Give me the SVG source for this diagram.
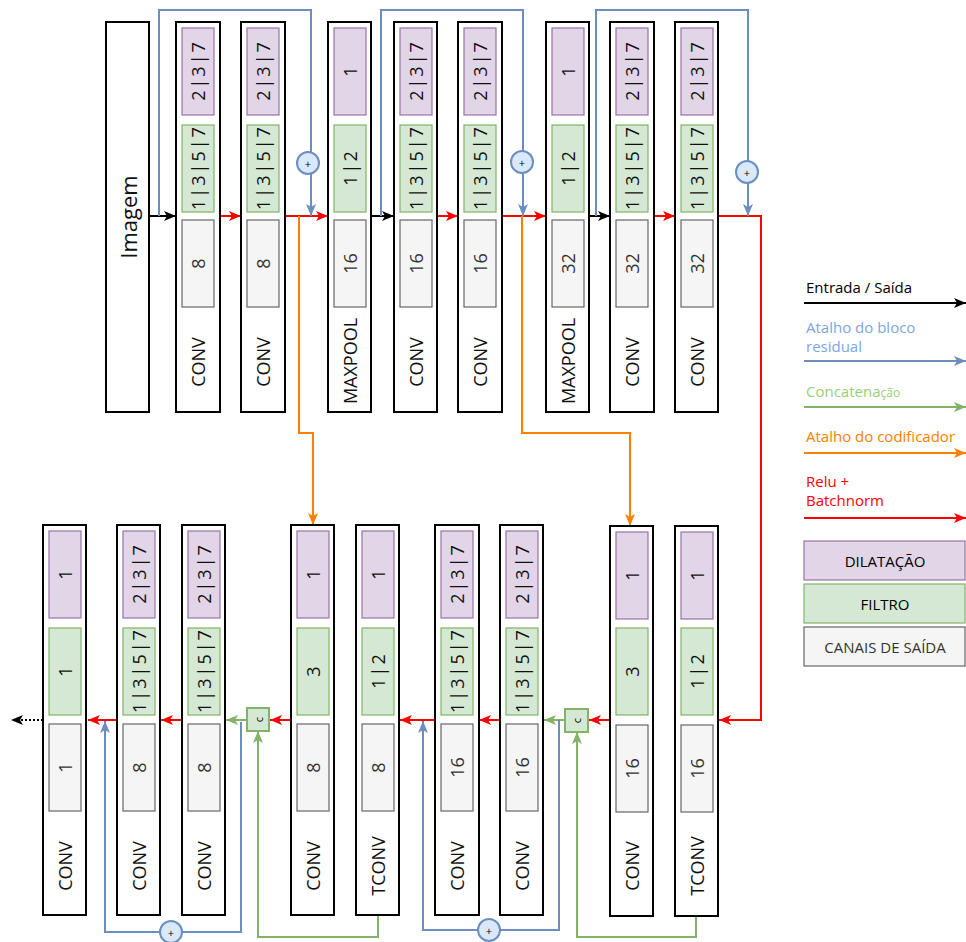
<svg xmlns="http://www.w3.org/2000/svg" width="966" height="942" viewBox="0 0 966 942">
<style>
.box{fill:#fff;stroke:#000;stroke-width:2}
.dil{fill:#e1d5e7;stroke:#9673a6;stroke-width:1.2}
.fil{fill:#d5e8d4;stroke:#82b366;stroke-width:1.2}
.out{fill:#f5f5f5;stroke:#666;stroke-width:1.2}
.t{font-family:"Open Sans","Noto Sans","DejaVu Sans",sans-serif;font-size:18px;text-anchor:middle;dominant-baseline:central;fill:#111}
.n{letter-spacing:2px}
.g{fill:#333}
.ln{fill:none;stroke-width:2}
.k{stroke:#000}.r{stroke:#ff0000}.b{stroke:#6c8ebf}.gr{stroke:#82b366}.o{stroke:#ff8000}
.plus{fill:#dae8fc;stroke:#6c8ebf;stroke-width:2}
.cb{fill:#d5e8d4;stroke:#82b366;stroke-width:2}
.sm{font-family:"Open Sans","Noto Sans",sans-serif;font-size:11px;text-anchor:middle;dominant-baseline:central;fill:#000}
.lg{font-family:"Open Sans","Noto Sans","DejaVu Sans",sans-serif;font-size:15px}
.lgc{font-family:"Open Sans","Noto Sans","DejaVu Sans",sans-serif;font-size:15px;text-anchor:middle;dominant-baseline:central}
</style>
<defs>
<marker id="ak" viewBox="0 0 12 10" markerUnits="userSpaceOnUse" markerWidth="12" markerHeight="10" refX="12" refY="5" orient="auto"><path d="M0,0 L12,5 L0,10 L3,5 z" fill="#000"/></marker>
<marker id="ar" viewBox="0 0 12 10" markerUnits="userSpaceOnUse" markerWidth="12" markerHeight="10" refX="12" refY="5" orient="auto"><path d="M0,0 L12,5 L0,10 L3,5 z" fill="#ff0000"/></marker>
<marker id="ab" viewBox="0 0 12 10" markerUnits="userSpaceOnUse" markerWidth="12" markerHeight="10" refX="12" refY="5" orient="auto"><path d="M0,0 L12,5 L0,10 L3,5 z" fill="#6c8ebf"/></marker>
<marker id="ag" viewBox="0 0 12 10" markerUnits="userSpaceOnUse" markerWidth="12" markerHeight="10" refX="12" refY="5" orient="auto"><path d="M0,0 L12,5 L0,10 L3,5 z" fill="#82b366"/></marker>
<marker id="ao" viewBox="0 0 12 10" markerUnits="userSpaceOnUse" markerWidth="12" markerHeight="10" refX="12" refY="5" orient="auto"><path d="M0,0 L12,5 L0,10 L3,5 z" fill="#ff8000"/></marker>
</defs>

<g id="connectors">
<path class="ln k" d="M149,216 H176" marker-end="url(#ak)"/>
<path class="ln r" d="M220,216 H241" marker-end="url(#ar)"/>
<path class="ln r" d="M285,216 H328" marker-end="url(#ar)"/>
<path class="ln k" d="M371,216 H394" marker-end="url(#ak)"/>
<path class="ln r" d="M437,216 H458" marker-end="url(#ar)"/>
<path class="ln r" d="M502,216 H546" marker-end="url(#ar)"/>
<path class="ln k" d="M589,216 H610" marker-end="url(#ak)"/>
<path class="ln r" d="M654,216 H675" marker-end="url(#ar)"/>
<path class="ln r" d="M718,216 H761 V720 H719" marker-end="url(#ar)"/>
<path class="ln b" d="M159,216 V10 H311 V216" marker-end="url(#ab)"/>
<path class="ln b" d="M381,216 V10 H523 V216" marker-end="url(#ab)"/>
<path class="ln b" d="M596,216 V10 H748 V216" marker-end="url(#ab)"/>
<path class="ln o" d="M299,216 V433 H313 V525" marker-end="url(#ao)"/>
<path class="ln o" d="M522,216 V433 H630 V526" marker-end="url(#ao)"/>
<path class="ln r" d="M610,720 H589" marker-end="url(#ar)"/>
<path class="ln gr" d="M696,916 V937 H577 V732" marker-end="url(#ag)"/>
<path class="ln gr" d="M565,720 H544" marker-end="url(#ag)"/>
<path class="ln b" d="M559,720 V930 H423 V721" marker-end="url(#ab)"/>
<path class="ln r" d="M500,720 H479" marker-end="url(#ar)"/>
<path class="ln r" d="M435,720 H400" marker-end="url(#ar)"/>
<path class="ln gr" d="M378,916 V937 H258 V731" marker-end="url(#ag)"/>
<path class="ln r" d="M291,720 H270" marker-end="url(#ar)"/>
<path class="ln gr" d="M247,720 H226" marker-end="url(#ag)"/>
<path class="ln b" d="M241,722 V932 H105 V721" marker-end="url(#ab)"/>
<path class="ln r" d="M182,720 H161" marker-end="url(#ar)"/>
<path class="ln r" d="M117,720 H88" marker-end="url(#ar)"/>
<path class="ln k" d="M43,720 H11" stroke-dasharray="2,2" marker-end="url(#ak)"/>
<g id="sum1"><circle class="plus" cx="308" cy="163" r="11"/><text class="sm" x="308" y="163">+</text></g>
<g id="sum2"><circle class="plus" cx="522" cy="162" r="11"/><text class="sm" x="522" y="162">+</text></g>
<g id="sum3"><circle class="plus" cx="747" cy="172" r="11"/><text class="sm" x="747" y="172">+</text></g>
<g id="sum4"><circle class="plus" cx="489" cy="930" r="11"/><text class="sm" x="489" y="930">+</text></g>
<g id="sum5"><circle class="plus" cx="171" cy="932" r="11"/><text class="sm" x="171" y="932">+</text></g>
</g>

<g id="cat1"><rect class="cb" x="565" y="709" width="23" height="23"/><text class="sm" transform="rotate(-90 576.5 720.5)" x="576.5" y="720.5">c</text></g>
<g id="cat2"><rect class="cb" x="247" y="708" width="22" height="23"/><text class="sm" transform="rotate(-90 258 719.5)" x="258" y="719.5">c</text></g>

<g id="imagem"><rect class="box" x="106" y="22" width="43" height="390"/><text class="t" style="font-size:22px" transform="rotate(-90 127.5 217)" x="127.5" y="217">Imagem</text></g>

<g id="t1"><rect class="box" x="176" y="22" width="44" height="390"/>
<rect class="dil" x="182" y="28" width="32" height="87"/><text class="t n" transform="rotate(-90 198 71.5)" x="199" y="71.5">2|3|7</text>
<rect class="fil" x="182" y="125" width="32" height="87"/><text class="t n" transform="rotate(-90 198 168.5)" x="199" y="168.5">1|3|5|7</text>
<rect class="out" x="182" y="220" width="32" height="87"/><text class="t g" transform="rotate(-90 198 263.5)" x="198" y="263.5">8</text>
<text class="t" transform="rotate(-90 198 362)" x="198" y="362">CONV</text></g>

<g id="t2"><rect class="box" x="241" y="22" width="44" height="390"/>
<rect class="dil" x="247" y="28" width="32" height="87"/><text class="t n" transform="rotate(-90 263 71.5)" x="264" y="71.5">2|3|7</text>
<rect class="fil" x="247" y="125" width="32" height="87"/><text class="t n" transform="rotate(-90 263 168.5)" x="264" y="168.5">1|3|5|7</text>
<rect class="out" x="247" y="220" width="32" height="87"/><text class="t g" transform="rotate(-90 263 263.5)" x="263" y="263.5">8</text>
<text class="t" transform="rotate(-90 263 362)" x="263" y="362">CONV</text></g>

<g id="t3"><rect class="box" x="328" y="22" width="43" height="390"/>
<rect class="dil" x="334" y="28" width="32" height="87"/><text class="t" transform="rotate(-90 350 71.5)" x="350" y="71.5">1</text>
<rect class="fil" x="334" y="125" width="32" height="87"/><text class="t n" transform="rotate(-90 350 168.5)" x="351" y="168.5">1|2</text>
<rect class="out" x="334" y="220" width="32" height="87"/><text class="t g" transform="rotate(-90 350 263.5)" x="350" y="263.5">16</text>
<text class="t" transform="rotate(-90 350 361)" x="350" y="361">MAXPOOL</text></g>

<g id="t4"><rect class="box" x="394" y="22" width="43" height="390"/>
<rect class="dil" x="400" y="28" width="32" height="87"/><text class="t n" transform="rotate(-90 416 71.5)" x="417" y="71.5">2|3|7</text>
<rect class="fil" x="400" y="125" width="32" height="87"/><text class="t n" transform="rotate(-90 416 168.5)" x="417" y="168.5">1|3|5|7</text>
<rect class="out" x="400" y="220" width="32" height="87"/><text class="t g" transform="rotate(-90 416 263.5)" x="416" y="263.5">16</text>
<text class="t" transform="rotate(-90 416 362)" x="416" y="362">CONV</text></g>

<g id="t5"><rect class="box" x="458" y="22" width="44" height="390"/>
<rect class="dil" x="464" y="28" width="32" height="87"/><text class="t n" transform="rotate(-90 480 71.5)" x="481" y="71.5">2|3|7</text>
<rect class="fil" x="464" y="125" width="32" height="87"/><text class="t n" transform="rotate(-90 480 168.5)" x="481" y="168.5">1|3|5|7</text>
<rect class="out" x="464" y="220" width="32" height="87"/><text class="t g" transform="rotate(-90 480 263.5)" x="480" y="263.5">16</text>
<text class="t" transform="rotate(-90 480 362)" x="480" y="362">CONV</text></g>

<g id="t6"><rect class="box" x="546" y="22" width="43" height="390"/>
<rect class="dil" x="552" y="28" width="32" height="87"/><text class="t" transform="rotate(-90 568 71.5)" x="568" y="71.5">1</text>
<rect class="fil" x="552" y="125" width="32" height="87"/><text class="t n" transform="rotate(-90 568 168.5)" x="569" y="168.5">1|2</text>
<rect class="out" x="552" y="220" width="32" height="87"/><text class="t g" transform="rotate(-90 568 263.5)" x="568" y="263.5">32</text>
<text class="t" transform="rotate(-90 568 361)" x="568" y="361">MAXPOOL</text></g>

<g id="t7"><rect class="box" x="610" y="22" width="44" height="390"/>
<rect class="dil" x="616" y="28" width="32" height="87"/><text class="t n" transform="rotate(-90 632 71.5)" x="633" y="71.5">2|3|7</text>
<rect class="fil" x="616" y="125" width="32" height="87"/><text class="t n" transform="rotate(-90 632 168.5)" x="633" y="168.5">1|3|5|7</text>
<rect class="out" x="616" y="220" width="32" height="87"/><text class="t g" transform="rotate(-90 632 263.5)" x="632" y="263.5">32</text>
<text class="t" transform="rotate(-90 632 362)" x="632" y="362">CONV</text></g>

<g id="t8"><rect class="box" x="675" y="22" width="43" height="390"/>
<rect class="dil" x="681" y="28" width="32" height="87"/><text class="t n" transform="rotate(-90 697 71.5)" x="698" y="71.5">2|3|7</text>
<rect class="fil" x="681" y="125" width="32" height="87"/><text class="t n" transform="rotate(-90 697 168.5)" x="698" y="168.5">1|3|5|7</text>
<rect class="out" x="681" y="220" width="32" height="87"/><text class="t g" transform="rotate(-90 697 263.5)" x="697" y="263.5">32</text>
<text class="t" transform="rotate(-90 697 362)" x="697" y="362">CONV</text></g>

<g id="b1"><rect class="box" x="43" y="525" width="43" height="390"/>
<rect class="dil" x="49" y="531" width="32" height="87"/><text class="t" transform="rotate(-90 65 574.5)" x="65" y="574.5">1</text>
<rect class="fil" x="49" y="628" width="32" height="87"/><text class="t" transform="rotate(-90 65 671.5)" x="65" y="671.5">1</text>
<rect class="out" x="49" y="724" width="32" height="87"/><text class="t g" transform="rotate(-90 65 767.5)" x="65" y="767.5">1</text>
<text class="t" transform="rotate(-90 65 866)" x="65" y="866">CONV</text></g>

<g id="b2"><rect class="box" x="117" y="525" width="43" height="390"/>
<rect class="dil" x="123" y="531" width="32" height="87"/><text class="t n" transform="rotate(-90 139 574.5)" x="140" y="574.5">2|3|7</text>
<rect class="fil" x="123" y="628" width="32" height="87"/><text class="t n" transform="rotate(-90 139 671.5)" x="140" y="671.5">1|3|5|7</text>
<rect class="out" x="123" y="724" width="32" height="87"/><text class="t g" transform="rotate(-90 139 767.5)" x="139" y="767.5">8</text>
<text class="t" transform="rotate(-90 139 866)" x="139" y="866">CONV</text></g>

<g id="b3"><rect class="box" x="182" y="525" width="43" height="390"/>
<rect class="dil" x="188" y="531" width="32" height="87"/><text class="t n" transform="rotate(-90 204 574.5)" x="205" y="574.5">2|3|7</text>
<rect class="fil" x="188" y="628" width="32" height="87"/><text class="t n" transform="rotate(-90 204 671.5)" x="205" y="671.5">1|3|5|7</text>
<rect class="out" x="188" y="724" width="32" height="87"/><text class="t g" transform="rotate(-90 204 767.5)" x="204" y="767.5">8</text>
<text class="t" transform="rotate(-90 204 866)" x="204" y="866">CONV</text></g>

<g id="b4"><rect class="box" x="291" y="525" width="43" height="390"/>
<rect class="dil" x="297" y="531" width="32" height="87"/><text class="t" transform="rotate(-90 313 574.5)" x="313" y="574.5">1</text>
<rect class="fil" x="297" y="628" width="32" height="87"/><text class="t" transform="rotate(-90 313 671.5)" x="313" y="671.5">3</text>
<rect class="out" x="297" y="724" width="32" height="87"/><text class="t g" transform="rotate(-90 313 767.5)" x="313" y="767.5">8</text>
<text class="t" transform="rotate(-90 313 866)" x="313" y="866">CONV</text></g>

<g id="b5"><rect class="box" x="356" y="525" width="43" height="390"/>
<rect class="dil" x="362" y="531" width="32" height="87"/><text class="t" transform="rotate(-90 378 574.5)" x="378" y="574.5">1</text>
<rect class="fil" x="362" y="628" width="32" height="87"/><text class="t n" transform="rotate(-90 378 671.5)" x="379" y="671.5">1|2</text>
<rect class="out" x="362" y="724" width="32" height="87"/><text class="t g" transform="rotate(-90 378 767.5)" x="378" y="767.5">8</text>
<text class="t" transform="rotate(-90 378 866)" x="378" y="866">TCONV</text></g>

<g id="b6"><rect class="box" x="435" y="525" width="44" height="390"/>
<rect class="dil" x="441" y="531" width="32" height="87"/><text class="t n" transform="rotate(-90 457 574.5)" x="458" y="574.5">2|3|7</text>
<rect class="fil" x="441" y="628" width="32" height="87"/><text class="t n" transform="rotate(-90 457 671.5)" x="458" y="671.5">1|3|5|7</text>
<rect class="out" x="441" y="724" width="32" height="87"/><text class="t g" transform="rotate(-90 457 767.5)" x="457" y="767.5">16</text>
<text class="t" transform="rotate(-90 457 866)" x="457" y="866">CONV</text></g>

<g id="b7"><rect class="box" x="500" y="525" width="43" height="390"/>
<rect class="dil" x="506" y="531" width="32" height="87"/><text class="t n" transform="rotate(-90 522 574.5)" x="523" y="574.5">2|3|7</text>
<rect class="fil" x="506" y="628" width="32" height="87"/><text class="t n" transform="rotate(-90 522 671.5)" x="523" y="671.5">1|3|5|7</text>
<rect class="out" x="506" y="724" width="32" height="87"/><text class="t g" transform="rotate(-90 522 767.5)" x="522" y="767.5">16</text>
<text class="t" transform="rotate(-90 522 866)" x="522" y="866">CONV</text></g>

<g id="b8"><rect class="box" x="610" y="526" width="43" height="390"/>
<rect class="dil" x="616" y="532" width="32" height="87"/><text class="t" transform="rotate(-90 632 575.5)" x="632" y="575.5">1</text>
<rect class="fil" x="616" y="628" width="32" height="87"/><text class="t" transform="rotate(-90 632 671.5)" x="632" y="671.5">3</text>
<rect class="out" x="616" y="725" width="32" height="87"/><text class="t g" transform="rotate(-90 632 768.5)" x="632" y="768.5">16</text>
<text class="t" transform="rotate(-90 632 866)" x="632" y="866">CONV</text></g>

<g id="b9"><rect class="box" x="675" y="526" width="43" height="390"/>
<rect class="dil" x="681" y="532" width="32" height="87"/><text class="t" transform="rotate(-90 697 575.5)" x="697" y="575.5">1</text>
<rect class="fil" x="681" y="628" width="32" height="87"/><text class="t n" transform="rotate(-90 697 671.5)" x="698" y="671.5">1|2</text>
<rect class="out" x="681" y="725" width="32" height="87"/><text class="t g" transform="rotate(-90 697 768.5)" x="697" y="768.5">16</text>
<text class="t" transform="rotate(-90 697 866)" x="697" y="866">TCONV</text></g>

<g id="legend">
<text class="lg" x="806" y="293" fill="#000">Entrada / Saída</text>
<path class="ln k" d="M804,303 H966" marker-end="url(#ak)"/>
<text class="lg" x="806" y="333" fill="#7ea6e0">Atalho do bloco</text>
<text class="lg" x="806" y="352" fill="#7ea6e0">residual</text>
<path class="ln b" d="M804,361 H966" marker-end="url(#ab)"/>
<text class="lg" x="806" y="397" fill="#97d077">Concatena<tspan style="font-size:12px">ção</tspan></text>
<path class="ln gr" d="M804,407 H966" marker-end="url(#ag)"/>
<text class="lg" x="806" y="442" fill="#ff8000">Atalho do codificador</text>
<path class="ln o" d="M804,453 H966" marker-end="url(#ao)"/>
<text class="lg" x="806" y="486.5" fill="#ff0000">Relu +</text>
<text class="lg" x="806" y="505.5" fill="#ff0000">Batchnorm</text>
<path class="ln r" d="M804,518 H966" marker-end="url(#ar)"/>
<rect class="dil" x="804" y="541" width="161" height="39"/><text class="lgc" x="885" y="561" fill="#000">DILATAÇÃO</text>
<rect class="fil" x="804" y="584" width="161" height="39"/><text class="lgc" x="885" y="604" fill="#000">FILTRO</text>
<rect class="out" x="804" y="627" width="161" height="39"/><text class="lgc" x="885" y="647" fill="#333">CANAIS DE SAÍDA</text>
</g>
</svg>
